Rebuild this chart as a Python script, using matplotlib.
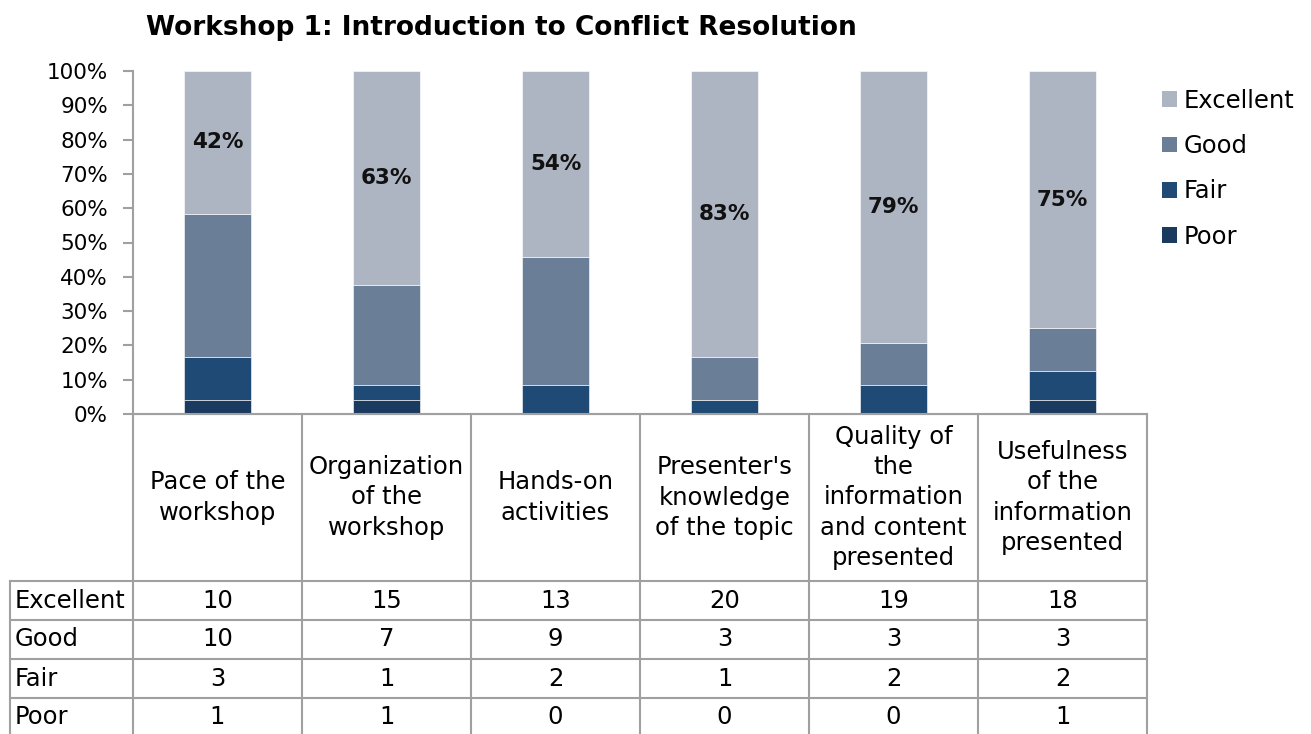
import matplotlib.pyplot as plt
import matplotlib as mpl
from matplotlib.patches import Patch
import numpy as np

mpl.rcParams['font.family'] = 'DejaVu Sans'

# data
categories = ["Pace of the\nworkshop", "Organization\nof the\nworkshop", "Hands-on\nactivities",
              "Presenter's\nknowledge\nof the topic", "Quality of\nthe\ninformation\nand content\npresented",
              "Usefulness\nof the\ninformation\npresented"]
levels = ["Excellent", "Good", "Fair", "Poor"]
excellent = [10, 15, 13, 20, 19, 18]
good = [10, 7, 9, 3, 3, 3]
fair = [3, 1, 2, 1, 2, 2]
poor = [1, 1, 0, 0, 0, 1]

colors = {"Excellent": "#ADB5C3", "Good": "#6B7E98", "Fair": "#1F4A75", "Poor": "#1A3A60"}
grid_col = "#A0A0A0"

W, H = 1311, 734
fig = plt.figure(figsize=(W / 100, H / 100), dpi=100)

x0, x1 = 133, 1147
ytop, ybase = 71, 414
ax = fig.add_axes([x0 / W, 1 - ybase / H, (x1 - x0) / W, (ybase - ytop) / H])

counts = np.array([poor, fair, good, excellent], dtype=float)
totals = counts.sum(axis=0)
shares = counts / totals * 100
x = np.arange(len(categories)) + 0.5
bottom = np.zeros(len(categories))
for name, vals in zip(["Poor", "Fair", "Good", "Excellent"], shares):
    ax.bar(x, vals, bottom=bottom, width=0.4, color=colors[name], edgecolor='white', linewidth=0.4)
    bottom += vals

# percent labels in the Excellent segment (Excel-style rounding, half up)
tot_int = [e + g + f + p for e, g, f, p in zip(excellent, good, fair, poor)]
for xi, e, t, s in zip(x, excellent, tot_int, shares[3]):
    pct = (200 * e + t) // (2 * t)
    ax.text(xi, 100 - s / 2, f"{pct}%", ha='center', va='center', fontsize=15.5, fontweight='bold',
            color='#111111')

ax.set_xlim(0, len(categories))
ax.set_ylim(0, 100)
ax.set_yticks(np.arange(0, 101, 10))
ax.set_yticklabels([f"{v}%" for v in range(0, 101, 10)], fontsize=15.5)
ax.set_xticks([])
for s in ['top', 'right']:
    ax.spines[s].set_visible(False)
for s in ['left', 'bottom']:
    ax.spines[s].set_color(grid_col)
    ax.spines[s].set_linewidth(1.5)
ax.tick_params(axis='y', length=7, width=1.5, color=grid_col, pad=11)

ax.set_title("Workshop 1: Introduction to Conflict Resolution", fontsize=19, fontweight='bold',
             x=(501 - x0) / (x1 - x0), y=1.0, pad=26)

# data table below the chart
tx0 = 10
col_w = (x1 - x0) / len(categories)
label_w = (x0 - tx0) / col_w
tax = fig.add_axes([tx0 / W, 0, (x1 - tx0) / W, (H - ybase) / H])
tax.set_xlim(-label_w, len(categories))
tax.set_ylim(H - ybase, 0)
tax.axis('off')

hdr_h = 167
row_h = 39
lw = 1.5
fs = 17.5
# header row
for i in range(len(categories) + 1):
    tax.plot([i, i], [0, H - ybase], color=grid_col, lw=lw, clip_on=False)
tax.plot([0, len(categories)], [0, 0], color=grid_col, lw=lw)
for i, c in enumerate(categories):
    tax.text(i + 0.5, hdr_h / 2, c, ha='center', va='center', fontsize=fs, linespacing=1.34,
             multialignment='center')
# body rows
tax.plot([-label_w, -label_w], [hdr_h, H - ybase], color=grid_col, lw=lw, clip_on=False)
rows = [excellent, good, fair, poor]
for r, (name, vals) in enumerate(zip(levels, rows)):
    ytop_r = hdr_h + r * row_h
    tax.plot([-label_w, len(categories)], [ytop_r, ytop_r], color=grid_col, lw=lw)
    yc = ytop_r + row_h / 2
    tax.text(-label_w + 0.025, yc, name, ha='left', va='center', fontsize=fs)
    for i, v in enumerate(vals):
        tax.text(i + 0.5, yc, str(v), ha='center', va='center', fontsize=fs)

# legend
handles = [Patch(facecolor=colors[n], edgecolor='none', label=n) for n in levels]
fig.legend(handles=handles, loc='upper left', bbox_to_anchor=(1152 / W, 1 - 79 / H), frameon=False,
           fontsize=fs, handlelength=0.62, handleheight=0.62, handletextpad=0.3, labelspacing=0.88,
           borderaxespad=0)

plt.savefig('out.png', dpi=100)
plt.close()
